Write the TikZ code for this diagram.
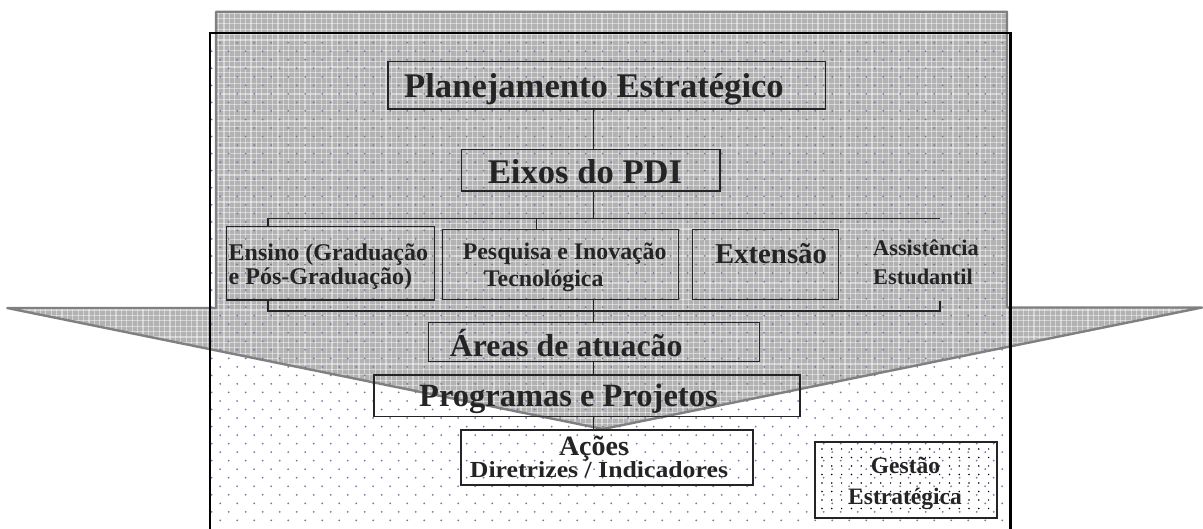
\documentclass[tikz,border=0pt]{standalone}
\usepackage{fontspec}
\setmainfont{Liberation Serif}
\definecolor{callgray}{RGB}{178,178,178}
\definecolor{callline}{RGB}{128,128,128}
\definecolor{dotc}{RGB}{118,118,172}
\definecolor{txt}{RGB}{36,36,36}
\newcommand\tfs[1]{\fontsize{#1}{#1}\selectfont\bfseries}
\begin{document}
\begin{tikzpicture}[x=1pt,y=-1pt,
  box/.style={draw=txt, line width=1.5pt, inner sep=0pt},
  conn/.style={draw=txt, line width=1.5pt},
  lbl/.style={text=txt, inner sep=0pt, anchor=base},
  lblw/.style={text=txt, inner sep=0pt, anchor=base west}]
\useasboundingbox (0,0) rectangle (1203,528);
% grey callout
\fill[callgray]
  (216,11.7) -- (1007,11.7) -- (1007,307.5) -- (1202,307.5) -- (603,429)
  -- (7.3,308) -- (216,308) -- cycle;
\begin{scope}
  \clip (216,11.7) -- (1007,11.7) -- (1007,307.5) -- (1202,307.5) -- (603,429)
    -- (7.3,308) -- (216,308) -- cycle;
  \foreach \i [evaluate=\i as \xx using {8+5.4*\i}] in {0,...,221}{
    \draw[white, opacity=0.45, line width=1.3pt] (\xx,10) -- (\xx,432);
  }
  \foreach \j [evaluate=\j as \yy using {13+5.4*\j}] in {0,...,78}{
    \draw[white, opacity=0.45, line width=1.3pt] (5,\yy) -- (1203,\yy);
  }
\end{scope}
\draw[callline, line width=2.4pt, line join=round]
  (216,11.7) -- (1007,11.7) -- (1007,307.5) -- (1202,307.5) -- (603,429)
  -- (7.3,308) -- (216,308) -- cycle;
% dotted background of the frame
\foreach \j [evaluate=\j as \yy using {42.7+8.53*\j},
             evaluate=\j as \off using {8.5*mod(\j+1,2)}] in {0,...,56}{
  \foreach \i [evaluate=\i as \xx using {211.7+\off+17*\i}] in {0,...,46}{
    \fill[dotc] (\xx,\yy) circle[radius=1.0];
  }
}
% frame
\draw[black, line width=2.2pt] (210,531) -- (210,33.3) -- (1010.5,33.3) -- (1010.5,531);
% boxes
\node[box, minimum width=437.3pt, minimum height=47.3pt] (plan) at (606.65,85.35) {};
\node[box, minimum width=258.3pt, minimum height=41.7pt] (eixos) at (590.85,170.15) {};
\node[box, minimum width=207.6pt, minimum height=73.3pt] (ensino) at (330.5,263.35) {};
\node[box, minimum width=236pt, minimum height=70pt] (pesquisa) at (560.7,264.3) {};
\node[box, minimum width=146pt, minimum height=70pt] (extensao) at (765.7,264.3) {};
\node[box, minimum width=330.8pt, minimum height=39pt] (areas) at (594.1,342.2) {};
\node[box, minimum width=426pt, minimum height=41.7pt] (programas) at (587,395.85) {};
\node[box, minimum width=292pt, minimum height=55pt] (acoes) at (607,457.5) {};
\node[box, minimum width=182pt, minimum height=76pt] (gestao) at (906,480) {};
% dots inside Gestao box
\foreach \j [evaluate=\j as \yy using {449+8.5*\j}] in {0,...,7}{
  \foreach \i [evaluate=\i as \xx using {822+9.8*\i}] in {0,...,17}{
    \fill[black] (\xx,\yy) circle[radius=0.85];
  }
}
% connectors
\coordinate (sp) at (593.7,0);
\coordinate (tb) at (0,218.3);
\coordinate (bb) at (0,311);
\coordinate (bl) at (268,0);
\coordinate (br) at (940,0);
\coordinate (pt) at (536.7,0);
\coordinate (brt) at (940,301);
\draw[conn] (plan.south -| sp) -- (eixos.north -| sp);
\draw[conn] (eixos.south -| sp) -- (sp |- tb);
\draw[conn] (ensino.north -| bl) -- (bl |- tb) -- (br |- tb);
\draw[conn] (pt |- tb) -- (pesquisa.north -| pt);
\draw[conn] (ensino.south -| bl) -- (bl |- bb) -- (br |- bb) -- (brt);
\draw[conn] (pesquisa.south -| sp) -- (areas.north -| sp);
\draw[conn] (areas.south -| sp) -- (programas.north -| sp);
\draw[conn] (programas.south -| sp) -- (acoes.north -| sp);
% texts
\node[lbl, font={\tfs{34.6}}] (tplan) at (594,97.3) {Planejamento Estratégico};
\node[lbl, font={\tfs{34.6}}] (teixos) at (585,183) {Eixos do PDI};
\node[lblw, font={\tfs{24}}] (tens1) at (228.5,260) {Ensino (Graduação};
\node[lblw, font={\tfs{24}}] (tens2) at (228.5,284) {e Pós-Graduação)};
\node[lbl, font={\tfs{23.8}}] (tpes1) at (564.7,259) {Pesquisa e Inovação};
\node[lbl, font={\tfs{23.8}}] (tpes2) at (543.7,286) {Tecnológica};
\node[lbl, font={\tfs{28.8}}] (text) at (771,263) {Extensão};
\node[lbl, font={\tfs{22.4}}] (tass1) at (926,255) {Assistência};
\node[lbl, font={\tfs{22.4}}] (tass2) at (923,284) {Estudantil};
\node[lblw, font={\tfs{31.8}}] (tareas) at (449.7,356.5) {Áreas de atuacão};
\node[lblw, font={\tfs{32.5}}] (tprog) at (419,406.5) {Programas e Projetos};
\node[lbl, font={\tfs{28}}] (tacoes) at (594,455) {Ações};
\node[lbl, font={\tfs{23}}] (tdir) at (599,477.5) {\scalebox{1.12}[1]{Diretrizes / Indicadores}};
\node[lbl, font={\tfs{23.5}}] (tges1) at (905.5,473.5) {Gestão};
\node[lbl, font={\tfs{23.5}}] (tges2) at (905,504) {Estratégica};
\end{tikzpicture}
\end{document}
